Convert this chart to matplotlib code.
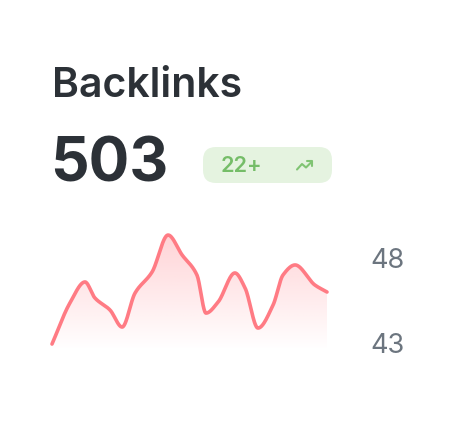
import numpy as np
import matplotlib
matplotlib.use("Agg")
import matplotlib.pyplot as plt
from matplotlib.patches import FancyBboxPatch, Polygon

plt.rcParams['font.family'] = ['Inter', 'DejaVu Sans']

title = "Backlinks"
total = "503"
change = "22+"
days = [0, 0.65, 1.2, 1.56, 2.11, 2.55, 3.02, 3.64, 4.22, 4.73, 5.27,
        5.6, 6.04, 6.65, 7.02, 7.49, 8.04, 8.4, 8.84, 9.56, 10]
values = [42.94, 45.35, 46.59, 45.65, 44.94, 43.94, 45.94, 47.18, 49.35, 48.18, 47.0,
          44.76, 45.41, 47.12, 46.24, 43.88, 45.24, 47.0, 47.59, 46.41, 46.0]
y_ticks = [43, 48]

W, H = 456, 423
line_color = "#ff7b84"
dark = "#2c3137"


def pchip(x, y, xs):
  # monotone cubic, used for the smooth curve
  x = np.asarray(x, float)
  y = np.asarray(y, float)
  h = np.diff(x)
  d = np.diff(y) / h
  m = np.zeros_like(y)
  for k in range(1, len(x) - 1):
    if d[k - 1] * d[k] > 0:
      w1 = 2 * h[k] + h[k - 1]
      w2 = h[k] + 2 * h[k - 1]
      m[k] = (w1 + w2) / (w1 / d[k - 1] + w2 / d[k])
  m[0] = d[0]
  m[-1] = d[-1]
  idx = np.clip(np.searchsorted(x, xs) - 1, 0, len(x) - 2)
  t = (xs - x[idx]) / h[idx]
  h00 = 2 * t**3 - 3 * t**2 + 1
  h10 = t**3 - 2 * t**2 + t
  h01 = -2 * t**3 + 3 * t**2
  h11 = t**3 - t**2
  return h00 * y[idx] + h10 * h[idx] * m[idx] + h01 * y[idx + 1] + h11 * h[idx] * m[idx + 1]


fig = plt.figure(figsize=(W / 100, H / 100), dpi=100)
fig.patch.set_facecolor("white")

# sparkline axes
ax = fig.add_axes([52 / W, 1 - 350 / H, 275 / W, 125 / H])
xs = np.linspace(days[0], days[-1], 600)
ys = pchip(days, values, xs)
ylo, yhi = 42.59, 49.94

# gradient fill under the curve, strong at the top, fading out at the bottom
grad = np.zeros((256, 1, 4))
grad[:, 0, :3] = matplotlib.colors.to_rgb(line_color)
grad[:, 0, 3] = np.linspace(0.36, 0.0, 256)
im = ax.imshow(grad, extent=[days[0], days[-1], ylo, yhi], aspect="auto",
               origin="upper", zorder=1)
poly = Polygon(np.column_stack([np.r_[xs, xs[-1], xs[0]], np.r_[ys, ylo, ylo]]),
               closed=True, facecolor="none", edgecolor="none")
ax.add_patch(poly)
im.set_clip_path(poly)
ax.set_xlim(days[0], days[-1])
ax.set_ylim(ylo, yhi)

ax.plot(xs, ys, color=line_color, lw=2.6, solid_capstyle="round", zorder=3,
        clip_on=False)

for s in ax.spines.values():
  s.set_visible(False)
ax.set_xticks([])
ax.yaxis.tick_right()
ax.set_yticks(y_ticks)
ax.set_yticklabels([str(v) for v in y_ticks])
ax.tick_params(axis="y", length=0, pad=31, labelsize=19.5, labelcolor="#6c757f")

# header overlay in pixel coordinates
ov = fig.add_axes([0, 0, 1, 1])
ov.set_xlim(0, W)
ov.set_ylim(H, 0)
ov.axis("off")
ov.patch.set_alpha(0)

ov.text(52, 97, title, fontsize=29.5, fontweight="semibold", color=dark,
        ha="left", va="baseline")
ov.text(50, 182, total, fontsize=43.5, fontweight="bold", color=dark,
        ha="left", va="baseline")

badge = FancyBboxPatch((203, 147), 129, 36, boxstyle="round,pad=0,rounding_size=13",
                       facecolor="#e5f3e0", edgecolor="none")
ov.add_patch(badge)
ov.text(221, 172, change, fontsize=15.5, fontweight="semibold", color="#75bd68",
        ha="left", va="baseline")
# trending-up icon
ov.plot([297, 302, 306, 312], [169.5, 164, 167.5, 161.5], color="#80c473", lw=1.5,
        solid_capstyle="round", solid_joinstyle="round")
ov.plot([307.5, 312, 312], [161.5, 161.5, 166], color="#80c473", lw=1.5,
        solid_capstyle="round", solid_joinstyle="round")

fig.savefig("out.png", dpi=100)
